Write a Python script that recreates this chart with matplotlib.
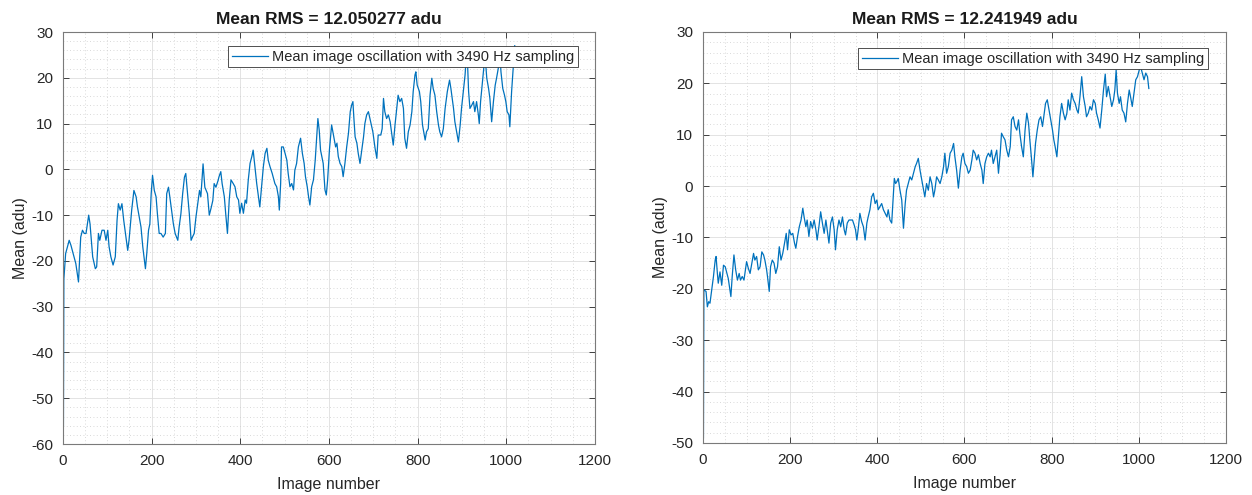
import matplotlib
matplotlib.use("Agg")
import matplotlib.pyplot as plt
from matplotlib.ticker import MultipleLocator

plt.rcParams['font.family'] = ['Liberation Sans', 'DejaVu Sans']
plt.rcParams['axes.unicode_minus'] = False

# ---- Data ----
left_x = [1, 2, 6, 14, 18, 21, 25, 29, 35, 40, 44, 48, 52, 58, 61, 64, 67, 73, 76, 80,
          83, 88, 93, 97, 101, 104, 108, 113, 118, 122, 125, 129, 133, 137, 142, 146, 149, 155, 160, 165,
          168, 172, 176, 180, 186, 189, 193, 196, 199, 202, 206, 210, 213, 217, 221, 226, 231, 234, 238, 241,
          246, 249, 253, 259, 262, 266, 270, 274, 277, 281, 285, 289, 292, 296, 300, 304, 308, 311, 316, 320,
          323, 326, 330, 334, 338, 341, 345, 350, 352, 356, 359, 364, 367, 371, 375, 379, 384, 388, 392, 396,
          399, 403, 407, 411, 414, 418, 422, 426, 429, 433, 437, 441, 444, 448, 452, 456, 460, 463, 467, 472,
          478, 482, 486, 488, 491, 493, 497, 501, 505, 508, 512, 516, 520, 523, 527, 531, 536, 540, 544, 547,
          551, 554, 557, 561, 565, 569, 572, 575, 578, 581, 584, 587, 591, 594, 597, 601, 606, 611, 615, 618,
          621, 625, 629, 632, 636, 640, 644, 648, 651, 654, 656, 659, 663, 666, 670, 674, 678, 681, 685, 689,
          693, 699, 704, 708, 711, 717, 720, 723, 726, 730, 734, 738, 741, 745, 749, 753, 756, 760, 764, 768,
          771, 775, 779, 783, 787, 790, 794, 796, 799, 804, 807, 811, 817, 820, 824, 828, 832, 835, 839, 843,
          847, 850, 854, 858, 862, 867, 872, 875, 878, 881, 884, 888, 892, 896, 899, 903, 907, 909, 911, 913,
          915, 918, 922, 926, 929, 933, 937, 939, 942, 947, 952, 956, 960, 963, 967, 971, 975, 978, 982, 986,
          988, 992, 996, 999, 1002, 1006, 1008, 1012, 1016, 1019]
left_y = [-56, -24, -18.4, -15.5, -16.6, -17.7, -19.1, -20.6, -24.6, -14.8, -13.3, -14.0, -14.0, -10.0, -11.9, -15.5, -19.1, -21.7, -21.3, -14.0,
          -15.5, -13.3, -13.3, -15.5, -13.3, -16.9, -19.1, -20.9, -19.1, -11.1, -7.5, -8.9, -7.5, -11.1, -14.8, -17.7, -15.5, -8.9, -4.6, -6.0,
          -8.2, -10.4, -12.6, -16.9, -21.7, -18.4, -13.3, -11.9, -5.3, -1.3, -4.6, -6.0, -9.7, -14.0, -14.0, -14.8, -14.0, -5.3, -3.9, -6.0,
          -9.7, -11.9, -14.0, -15.5, -12.6, -9.7, -5.3, -1.7, -0.9, -5.3, -9.7, -15.5, -14.8, -14.0, -10.4, -7.5, -4.6, -6.0, 1.2, -3.9,
          -4.6, -5.3, -10.0, -8.5, -6.8, -3.1, -3.9, -2.4, -1.6, -0.5, -3.1, -6.0, -9.6, -14.0, -6.7, -2.3, -3.1, -3.8, -6.0, -6.7,
          -9.6, -7.4, -9.6, -6.7, -7.4, -2.3, 1.3, 2.8, 4.2, 0.6, -3.1, -6.0, -8.2, -3.8, 0.6, 3.5, 4.6, 2.0, 0.6, -0.9,
          -3.1, -3.8, -6.0, -8.9, -3.1, 4.9, 4.9, 3.5, 2.0, -0.9, -3.8, -3.1, -4.5, -0.2, 1.3, 4.9, 6.8, 3.5, 1.3, -1.6,
          -3.8, -6.0, -7.8, -3.8, -2.3, 2.0, 6.4, 11.1, 8.6, 4.2, 2.8, 1.3, -4.5, -5.6, -2.3, 4.2, 9.7, 7.1, 4.9, 5.7,
          2.8, 1.3, 0.6, -1.6, 1.3, 4.9, 7.9, 12.6, 14.0, 14.8, 11.5, 7.1, 5.7, 3.5, 1.3, 4.2, 7.1, 10.0, 11.9, 12.6,
          10.8, 8.2, 4.6, 2.4, 7.5, 7.5, 8.9, 15.5, 12.6, 11.1, 11.9, 10.4, 8.2, 5.3, 9.7, 13.3, 16.2, 14.8, 15.5, 13.3,
          6.8, 4.6, 8.2, 9.7, 12.6, 17.0, 20.6, 21.3, 18.4, 17.0, 14.8, 9.7, 6.4, 8.2, 8.9, 16.2, 19.9, 17.7, 16.2, 12.6,
          9.7, 8.2, 7.1, 8.9, 13.3, 17.0, 19.5, 17.7, 15.5, 13.3, 10.4, 8.2, 6.0, 9.7, 13.3, 17.0, 20.6, 23.5, 25.5, 22.1,
          17.0, 13.3, 14.0, 14.8, 12.6, 14.8, 11.9, 10.0, 14.8, 19.9, 25.0, 19.9, 17.7, 15.5, 10.4, 14.8, 18.4, 19.9, 22.1, 24.5,
          21.3, 17.7, 16.2, 14.8, 12.6, 11.9, 9.3, 17.0, 22.8, 27.0]

right_x = [1, 2, 7, 10, 13, 16, 20, 24, 28, 30, 33, 35, 39, 43, 47, 51, 54, 58, 64, 67,
           71, 75, 79, 83, 86, 90, 94, 100, 104, 108, 112, 116, 119, 123, 127, 131, 135, 139, 142, 146,
           148, 152, 155, 159, 163, 167, 171, 175, 179, 183, 187, 191, 194, 198, 202, 206, 210, 213, 217, 221,
           225, 229, 232, 236, 239, 243, 247, 251, 255, 259, 262, 266, 270, 274, 278, 282, 285, 289, 293, 297,
           301, 304, 308, 312, 316, 320, 324, 327, 331, 335, 339, 343, 347, 350, 353, 356, 360, 364, 368, 372,
           376, 379, 383, 387, 391, 395, 399, 402, 406, 410, 414, 418, 422, 425, 429, 433, 437, 439, 442, 445,
           448, 452, 456, 460, 464, 467, 471, 475, 479, 483, 487, 490, 494, 498, 502, 506, 509, 513, 517, 521,
           525, 529, 532, 536, 540, 544, 548, 552, 555, 559, 563, 567, 571, 575, 578, 582, 586, 590, 594, 597,
           601, 605, 609, 613, 617, 620, 624, 628, 632, 636, 640, 643, 647, 651, 655, 659, 662, 666, 670, 674,
           678, 682, 685, 689, 693, 697, 701, 705, 708, 712, 716, 720, 724, 727, 731, 735, 739, 743, 747, 750,
           754, 757, 760, 763, 767, 771, 775, 779, 783, 786, 790, 794, 798, 802, 805, 808, 812, 815, 819, 823,
           827, 831, 835, 838, 842, 846, 850, 854, 858, 861, 865, 869, 873, 877, 880, 884, 888, 892, 896, 900,
           903, 907, 911, 915, 919, 923, 926, 930, 934, 938, 942, 945, 948, 951, 955, 958, 962, 966, 970, 974,
           978, 981, 985, 989, 993, 997, 1001, 1004, 1008, 1012, 1016, 1020, 1023]
right_y = [-49, -20.2, -20.5, -23.5, -22.5, -22.8, -20.2, -17.6, -14.4, -13.7, -17.0, -18.9, -16.7, -19.3, -15.4, -15.7, -16.7, -18.0, -21.5, -17.6,
           -13.4, -16.3, -18.3, -17.0, -18.3, -17.6, -18.3, -14.7, -16.0, -17.0, -15.0, -13.1, -14.4, -13.7, -16.3, -15.7, -12.8, -13.4, -14.4, -16.3,
           -17.6, -20.5, -15.7, -14.4, -15.0, -17.0, -15.7, -11.8, -14.4, -13.1, -11.1, -9.2, -12.4, -8.5, -9.5, -9.2, -11.1, -12.1, -9.8, -7.9,
           -6.6, -4.3, -6.0, -7.9, -6.6, -9.8, -6.9, -8.2, -6.6, -8.5, -10.5, -7.9, -5.0, -7.2, -9.2, -6.6, -8.5, -11.1, -7.2, -6.0,
           -8.5, -12.4, -8.5, -6.6, -7.9, -6.0, -8.5, -9.5, -7.2, -6.6, -6.6, -6.6, -7.6, -8.5, -10.5, -8.5, -5.3, -6.9, -7.9, -10.5,
           -7.2, -6.0, -4.6, -2.1, -1.4, -3.4, -2.7, -4.6, -4.0, -3.4, -4.6, -5.3, -6.0, -4.6, -6.6, -7.2, -1.4, 1.5, 0.5, 0.9,
           1.5, -0.8, -2.7, -8.2, -3.4, -0.8, 0.5, 1.8, 1.2, 2.5, 3.8, 4.4, 5.4, 3.1, 1.2, -0.8, -2.1, 0.5, -0.8, 1.8,
           0.5, -2.1, -0.8, 1.8, 1.2, 0.5, 1.8, 3.8, 6.4, 2.5, 3.8, 6.4, 7.0, 8.3, 5.7, 3.1, -0.4, 3.1, 5.7, 6.4,
           4.4, 3.8, 2.5, 3.1, 5.1, 7.0, 6.4, 5.1, 6.1, 4.4, 3.1, 0.5, 4.4, 5.7, 6.4, 5.7, 7.0, 4.4, 5.7, 7.0,
           2.5, 6.4, 10.3, 9.6, 9.0, 7.0, 5.7, 7.7, 12.9, 13.5, 11.6, 10.9, 12.9, 10.3, 7.7, 5.7, 10.9, 14.2, 12.2, 9.0,
           5.1, 1.8, 5.1, 8.3, 10.9, 12.9, 13.5, 11.6, 14.2, 16.1, 16.8, 14.8, 12.9, 10.9, 9.0, 7.7, 5.7, 9.0, 13.5, 16.1,
           14.2, 12.9, 14.2, 16.8, 14.8, 18.1, 16.8, 16.1, 14.8, 14.2, 17.4, 21.3, 17.4, 15.5, 13.5, 14.2, 15.5, 14.8, 16.8, 16.1,
           14.2, 12.9, 11.3, 14.8, 18.7, 21.8, 17.4, 19.4, 17.4, 15.5, 16.8, 18.7, 22.6, 18.1, 16.1, 17.4, 14.8, 14.2, 12.5, 16.1,
           18.7, 17.4, 15.5, 18.1, 20.7, 21.3, 22.6, 23.3, 22.0, 20.7, 22.0, 21.3, 19.0]

titles = ["Mean RMS = 12.050277 adu", "Mean RMS = 12.241949 adu"]
legend_label = "Mean image oscillation with 3490 Hz sampling"
x_label = "Image number"
y_label = "Mean (adu)"
x_ticks = [0, 200, 400, 600, 800, 1000, 1200]
left_yticks = [-60, -50, -40, -30, -20, -10, 0, 10, 20, 30]
right_yticks = [-50, -40, -30, -20, -10, 0, 10, 20, 30]

LINE = '#0072BD'
AX = '#262626'

fig = plt.figure(figsize=(12.52, 4.95), dpi=100)
ax1 = fig.add_axes([0.0503, 0.1030, 0.4249, 0.8323])
ax2 = fig.add_axes([0.5615, 0.1051, 0.4177, 0.8303])

setups = [
    (ax1, left_x, left_y, left_yticks, titles[0], (0.968, 0.966)),
    (ax2, right_x, right_y, right_yticks, titles[1], (0.965, 0.961)),
]

for ax, xs, ys, yt, title, anchor in setups:
    ax.plot(xs, ys, color=LINE, lw=0.9, label=legend_label)
    ax.set_xlim(0, 1200)
    ax.set_ylim(yt[0], yt[-1])
    ax.set_xticks(x_ticks)
    ax.set_yticks(yt)
    ax.xaxis.set_minor_locator(MultipleLocator(50))
    ax.yaxis.set_minor_locator(MultipleLocator(2))
    ax.grid(True, which='major', color='#dedede', lw=0.6, ls='-')
    ax.grid(True, which='minor', color='#cdcdcd', lw=0.6, ls=(0, (1, 3)))
    ax.set_axisbelow(True)
    ax.tick_params(which='major', direction='in', length=4, width=0.6, color=AX,
                   top=True, right=True, labelsize=11, labelcolor=AX, pad=7)
    ax.tick_params(which='minor', length=0, top=True, right=True)
    for s in ax.spines.values():
        s.set_color('#7a7a7a')
        s.set_linewidth(0.8)
    ax.set_title(title, fontsize=12.5, fontweight='bold', color='#1a1a1a', pad=6)
    ax.set_xlabel(x_label, fontsize=11.5, color=AX, labelpad=7)
    ax.set_ylabel(y_label, fontsize=11.5, color=AX, labelpad=2.5)
    leg = ax.legend(loc='upper right', bbox_to_anchor=anchor, borderaxespad=0,
                    fancybox=False, framealpha=1, edgecolor='#333333', fontsize=10.5,
                    handlelength=2.5, handletextpad=0.25, borderpad=0.25)
    leg.get_frame().set_linewidth(0.6)
    for t in leg.get_texts():
        t.set_color(AX)

fig.savefig('out.png', dpi=100)
